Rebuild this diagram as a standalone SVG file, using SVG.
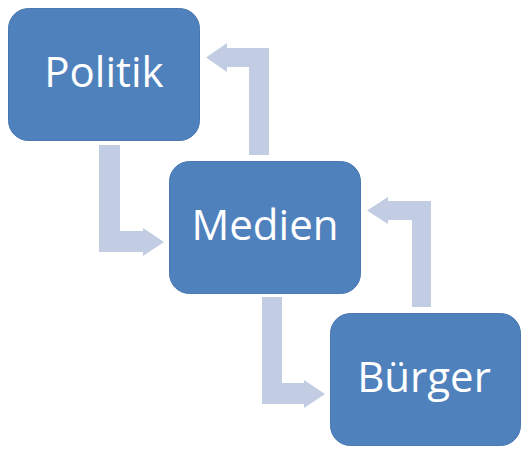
<svg xmlns="http://www.w3.org/2000/svg" width="530" height="455" viewBox="0 0 530 455">
<style>
.box{fill:#4F81BD;stroke:#4A78B2;stroke-width:1}
.lbl{font-family:"Open Sans","Noto Sans",sans-serif;font-size:42px;fill:#FFFFFF;text-anchor:middle}
.arr{fill:#C2CDE3;stroke:none}
</style>
<rect width="530" height="455" fill="#FFFFFF"/>
<g id="connectors">
<path class="arr" d="M99,145 L120,145 L120,231 L143,231 L143,228 L164,242 L143,256 L143,252 L99,252 Z"/>
<path class="arr" d="M269,155 L249,155 L249,67 L227,67 L227,72 L206,57.5 L227,43 L227,48 L269,48 Z"/>
<path class="arr" d="M262,297 L282,297 L282,383 L304,383 L304,380 L325,394 L304,408 L304,404 L262,404 Z"/>
<path class="arr" d="M431,307 L412,307 L412,220 L388,220 L388,224 L367,210.5 L388,197 L388,201 L431,201 Z"/>
</g>
<g id="politik">
<rect class="box" x="8.5" y="8.5" width="191" height="132" rx="20"/>
<text class="lbl" x="104" y="87">Politik</text>
</g>
<g id="medien">
<rect class="box" x="169.5" y="161.5" width="191" height="132" rx="20"/>
<text class="lbl" x="265" y="240">Medien</text>
</g>
<g id="buerger">
<rect class="box" x="330.5" y="313.5" width="190" height="132" rx="20"/>
<text class="lbl" x="424" y="392">Bürger</text>
</g>
</svg>
